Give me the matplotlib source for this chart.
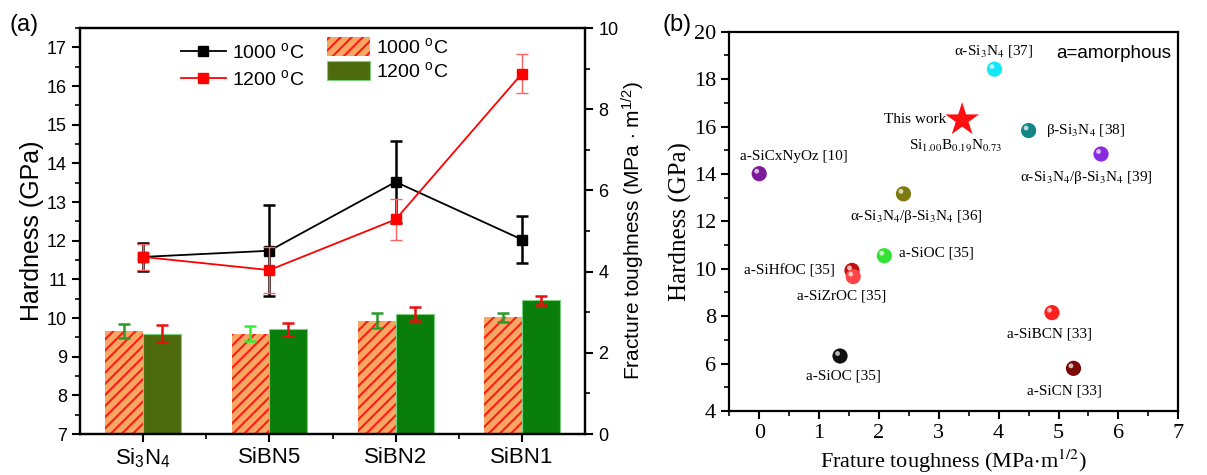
import numpy as np
import matplotlib
import matplotlib.pyplot as plt
from matplotlib.transforms import offset_copy
from matplotlib.lines import Line2D
from matplotlib.patches import Patch

plt.rcParams['font.family'] = ['Liberation Sans', 'DejaVu Sans']
plt.rcParams['mathtext.fontset'] = 'custom'
plt.rcParams['mathtext.rm'] = 'Liberation Sans'
plt.rcParams['mathtext.it'] = 'Liberation Sans:italic'
plt.rcParams['hatch.linewidth'] = 1.5

# ============================================================
# DATA
# ============================================================

samples = ["Si$_3$N$_4$", "SiBN5", "SiBN2", "SiBN1"]

# hardness (GPa), lines on left axis
hard_1000 = [11.58, 11.74, 13.52, 12.03]
hard_1000_err = [0.36, 1.18, 1.07, 0.60]
hard_1200 = [11.58, 11.24, 12.55, 16.32]
hard_1200_err = [0.33, 0.60, 0.52, 0.50]

# fracture toughness (MPa m^1/2), bars on right axis
tough_1000 = [2.54, 2.47, 2.79, 2.87]
tough_1000_err = [0.18, 0.18, 0.18, 0.11]
tough_1200 = [2.47, 2.58, 2.96, 3.29]
tough_1200_err = [0.21, 0.16, 0.17, 0.11]

# panel (b) literature comparison
lit_names = [
    "α-Si$_3$N$_4$ [37]",
    "β-Si$_3$N$_4$ [38]",
    "α-Si$_3$N$_4$/β-Si$_3$N$_4$ [39]",
    "a-SiCxNyOz [10]",
    "α-Si$_3$N$_4$/β-Si$_3$N$_4$ [36]",
    "a-SiOC [35]",
    "a-SiHfOC [35]",
    "a-SiZrOC [35]",
    "a-SiBCN [33]",
    "a-SiOC [35]",
    "a-SiCN [33]",
]
lit_tough = [3.93, 4.50, 5.71, 0.00, 2.41, 2.09, 1.55, 1.57, 4.89, 1.35, 5.25]
lit_hard = [18.42, 15.83, 14.84, 14.01, 13.16, 10.55, 9.93, 9.67, 8.15, 6.32, 5.80]
lit_colors = ["#10e8f8", "#138585", "#8a2be2", "#7d1a9a", "#7d7a10", "#35e035",
              "#c01010", "#ff4545", "#ff2020", "#101010", "#7a0a0a"]
# label offsets in pixels and alignment
lit_offsets = [(-1, 18, "center"), (17, 0, "left"), (-15, -23, "center"),
               (35, 17, "center"), (13, -23, "center"), (15, 3, "left"),
               (-17, 0, "right"), (-12, -19, "center"), (-2, -21, "center"),
               (3, -20, "center"), (-9, -23, "center")]

this_tough = [3.39]
this_hard = [16.28]

# ============================================================
# FIGURE
# ============================================================

fig = plt.figure(figsize=(12.07, 4.75), dpi=100)
ax = fig.add_axes([0.0663, 0.0863, 0.4184, 0.8547])
ax2 = ax.twinx()
ax.set_zorder(ax2.get_zorder() + 1)
ax.patch.set_visible(False)

x = np.arange(len(samples))
w = 0.3

bar_1200_colors = ["#4d6b0c", "#0a7e0a", "#0a7e0a", "#0a7e0a"]
err_1000_colors = ["#2c9a2c", "#33ee33", "#2c9a2c", "#2c9a2c"]

ax2.bar(x - w / 2, tough_1000, w, color="#f6a862", edgecolor="#ff1a1a",
        hatch="///", linewidth=0)
ax2.bar(x + w / 2, tough_1200, w, color=bar_1200_colors, edgecolor="#7ccf7c",
        linewidth=0.8)
for i in range(len(samples)):
    ax2.errorbar(x[i] - w / 2, tough_1000[i], yerr=tough_1000_err[i], fmt="none",
                 ecolor=err_1000_colors[i], elinewidth=1.8, capsize=4, capthick=1.8)
    ax2.errorbar(x[i] + w / 2, tough_1200[i], yerr=tough_1200_err[i], fmt="none",
                 ecolor="#e81010", elinewidth=1.8, capsize=4, capthick=1.8)

ax.errorbar(x, hard_1200, yerr=hard_1200_err, color="red", marker="s", ms=7,
            lw=1.3, ecolor="#ff6060", elinewidth=1, capsize=4, capthick=1, zorder=3)
ax.errorbar(x, hard_1000, yerr=hard_1000_err, color="black", marker="s", ms=7,
            lw=1.3, elinewidth=1.8, capsize=4, capthick=1.8, zorder=2)

ax.set_xlim(-0.5, 3.5)
ax.set_ylim(7, 17.5)
ax2.set_ylim(0, 10)
ax.set_xticks(x)
ax.set_xticklabels(samples)
ax.set_xticks(x[:-1] + 0.5, minor=True)
ax.set_yticks(np.arange(7, 18, 1))
ax.set_yticks(np.arange(7, 17.6, 0.5), minor=True)
ax2.set_yticks(np.arange(0, 11, 2))
ax2.set_yticks(np.arange(0, 11, 1), minor=True)
ax.set_ylabel("Hardness (GPa)", fontsize=18, labelpad=2)
ax2.set_ylabel("Fracture toughness (MPa $\\cdot$ m$^{1/2}$)", fontsize=15, labelpad=1)
for a in (ax, ax2):
    a.tick_params(which="major", direction="out", length=6, width=1.5, labelsize=13)
    a.tick_params(which="minor", direction="out", length=3.5, width=1.2)
    a.tick_params(axis="x", which="both", top=False)
    for s in a.spines.values():
        s.set_linewidth(1.6)
ax.tick_params(axis="x", labelsize=16, pad=3)

line_handles = [
    Line2D([], [], color="black", marker="s", ms=7, lw=1.3),
    Line2D([], [], color="red", marker="s", ms=7, lw=1.3),
]
ax.legend(line_handles, ["1000 $^{\\rm o}$C", "1200 $^{\\rm o}$C"],
          loc="upper left", bbox_to_anchor=(0.2, 0.965), frameon=False,
          fontsize=14, handlelength=2.3, handletextpad=0.3,
          borderpad=0, borderaxespad=0, labelspacing=0.35)
bar_handles = [
    Patch(facecolor="#f6a862", edgecolor="#ff1a1a", hatch="///", linewidth=0),
    Patch(facecolor="#4d6b0c", edgecolor="#7ccf7c", linewidth=0.8),
]
ax2.legend(bar_handles, ["1000 $^{\\rm o}$C", "1200 $^{\\rm o}$C"],
           loc="upper left", bbox_to_anchor=(0.49, 0.978), frameon=False,
           fontsize=14, handlelength=2.2, handleheight=1.15, handletextpad=0.3,
           borderpad=0, borderaxespad=0, labelspacing=0.2)

fig.text(0.008, 0.935, "(a)", fontsize=17)

# ============================================================
# PANEL (b)
# ============================================================

serif = ["Liberation Serif", "DejaVu Serif"]
bx = fig.add_axes([0.6042, 0.1347, 0.372, 0.7986])

bx.scatter(lit_tough, lit_hard, s=120, c=lit_colors, edgecolors="none", zorder=3)
hl = offset_copy(bx.transData, fig=fig, x=-2.5, y=2.5, units="dots")
bx.scatter(lit_tough, lit_hard, s=12, c="white", alpha=0.7, edgecolors="none",
           transform=hl, zorder=4)
bx.scatter(this_tough, this_hard, s=650, marker="*", color="#ff1010",
           edgecolors="none", zorder=5)

for name, xt, yt, (dx, dy, ha) in zip(lit_names, lit_tough, lit_hard, lit_offsets):
    bx.annotate(name, (xt, yt), xytext=(dx, dy), textcoords="offset pixels",
                ha=ha, va="center", fontsize=11, family=serif,
                math_fontfamily="stix")
bx.annotate("This work", (this_tough[0], this_hard[0]), xytext=(-16, 0),
            textcoords="offset pixels", ha="right", va="center", fontsize=11,
            family=serif)
bx.annotate("Si$_{1.00}$B$_{0.19}$N$_{0.73}$", (this_tough[0], this_hard[0]),
            xytext=(-6, -26), textcoords="offset pixels", ha="center",
            va="center", fontsize=11, family=serif, math_fontfamily="stix")
bx.text(0.985, 0.965, "a=amorphous", transform=bx.transAxes, ha="right",
        va="top", fontsize=13.5)

bx.set_xlim(-0.5, 7)
bx.set_ylim(4, 20)
bx.set_xticks(np.arange(0, 8, 1))
bx.set_xticks(np.arange(-0.5, 7.1, 0.5), minor=True)
bx.set_yticks(np.arange(4, 21, 2))
bx.set_yticks(np.arange(4, 21, 1), minor=True)
bx.tick_params(which="major", direction="out", length=6, width=1.5, labelsize=16)
bx.tick_params(which="minor", direction="out", length=3.5, width=1.2)
for lab in bx.get_xticklabels() + bx.get_yticklabels():
    lab.set_family(serif)
for s in bx.spines.values():
    s.set_linewidth(1.6)
bx.set_xlabel("Frature toughness (MPa$\\cdot$m$^{1/2}$)", fontsize=16,
              family=serif, math_fontfamily="stix", labelpad=3)
bx.set_ylabel("Hardness (GPa)", fontsize=18, family=serif, labelpad=1)

fig.text(0.549, 0.935, "(b)", fontsize=17)

fig.savefig("out.png", dpi=100)
